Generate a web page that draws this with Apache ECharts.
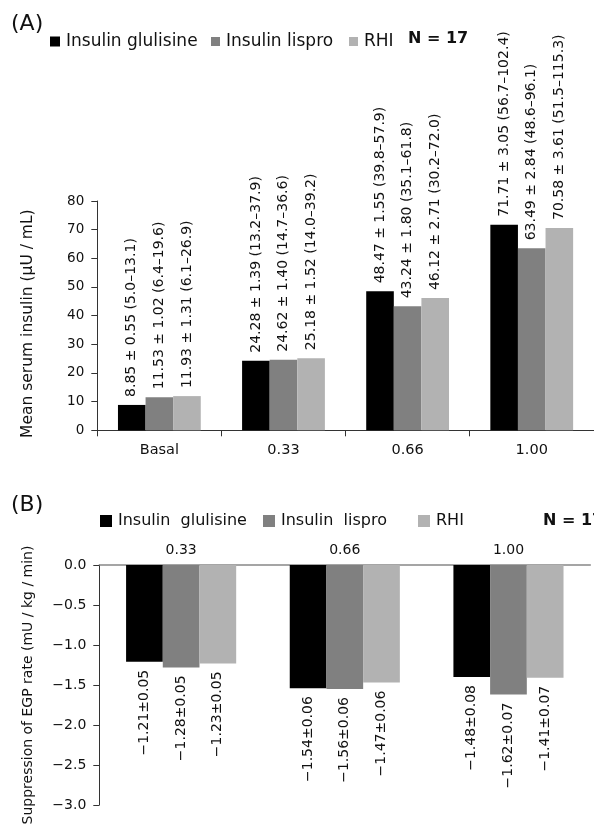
<!DOCTYPE html>
<html>
<head>
<meta charset="utf-8">
<script src="https://cdn.jsdelivr.net/npm/echarts@6/dist/echarts.min.js"></script>
<style>
html,body{margin:0;padding:0;background:#fff;}
#chart{width:594px;height:826px;}
</style>
</head>
<body>
<div id="chart"></div>
<script>
// ---- Data ----
var seriesNamesA = ['Insulin glulisine', 'Insulin lispro', 'RHI'];
var seriesNamesB = ['Insulin  glulisine', 'Insulin  lispro', 'RHI'];
var colors = ['#000000', '#808080', '#b2b2b2'];

// Panel A: mean serum insulin (µU/mL)
var categoriesA = ['Basal', '0.33', '0.66', '1.00'];
var glulisineA = [8.85, 24.28, 48.47, 71.71];
var lisproA = [11.53, 24.62, 43.24, 63.49];
var rhiA = [11.93, 25.18, 46.12, 70.58];
var glulisineLabelsA = ['8.85 ± 0.55 (5.0–13.1)', '24.28 ± 1.39 (13.2–37.9)', '48.47 ± 1.55 (39.8–57.9)', '71.71 ± 3.05 (56.7–102.4)'];
var lisproLabelsA = ['11.53 ± 1.02 (6.4–19.6)', '24.62 ± 1.40 (14.7–36.6)', '43.24 ± 1.80 (35.1–61.8)', '63.49 ± 2.84 (48.6–96.1)'];
var rhiLabelsA = ['11.93 ± 1.31 (6.1–26.9)', '25.18 ± 1.52 (14.0–39.2)', '46.12 ± 2.71 (30.2–72.0)', '70.58 ± 3.61 (51.5–115.3)'];

// Panel B: suppression of EGP rate (mU/kg/min)
var categoriesB = ['0.33', '0.66', '1.00'];
var glulisineB = [-1.21, -1.54, -1.40];
var lisproB = [-1.28, -1.55, -1.62];
var rhiB = [-1.23, -1.47, -1.41];
var glulisineLabelsB = ['−1.21±0.05', '−1.54±0.06', '−1.48±0.08'];
var lisproLabelsB = ['−1.28±0.05', '−1.56±0.06', '−1.62±0.07'];
var rhiLabelsB = ['−1.23±0.05', '−1.47±0.06', '−1.41±0.07'];

var yTicksA = {min: 0, max: 80, interval: 10};
var yTicksB = {min: -3, max: 0, interval: 0.5};

// ---- Chart ----
var FONT = 'DejaVu Sans';
var TXT = '#111111';
var chart = echarts.init(document.getElementById('chart'), null, {renderer: 'canvas'});

function seriesA(i, data, labels) {
  return {
    type: 'bar', name: seriesNamesA[i], xAxisIndex: 0, yAxisIndex: 0,
    data: data, barWidth: 27.6, barGap: '0%',
    itemStyle: {color: colors[i]},
    label: {
      show: true, position: 'top', rotate: 90, distance: 8,
      align: 'left', verticalAlign: 'middle',
      fontFamily: FONT, fontSize: 14, color: TXT,
      formatter: function (p) { return labels[p.dataIndex]; }
    },
    emphasis: {disabled: true}, animation: false
  };
}
function seriesB(i, data, labels) {
  return {
    type: 'bar', name: seriesNamesB[i], xAxisIndex: 1, yAxisIndex: 1,
    data: data, barWidth: 36.7, barGap: '0%',
    itemStyle: {color: colors[i]},
    label: {
      show: true, position: 'bottom', rotate: 90, distance: 8,
      align: 'right', verticalAlign: 'middle',
      fontFamily: FONT, fontSize: 14, color: TXT,
      formatter: function (p) { return labels[p.dataIndex]; }
    },
    emphasis: {disabled: true}, animation: false
  };
}
function legendItem(name, left, top, size, fontSize) {
  return {
    data: [name], left: left, top: top, padding: 0,
    itemWidth: size, itemHeight: size, icon: 'rect', selectedMode: false,
    textStyle: {fontFamily: FONT, fontSize: fontSize, color: TXT, padding: [0,0,0,1]}
  };
}

var option = {
  backgroundColor: '#fff',
  animation: false,
  title: [
    {text: '(A)', left: 11, top: 13, padding: 0, textStyle: {fontFamily: FONT, fontSize: 22, fontWeight: 'normal', color: TXT}},
    {text: 'N = 17', left: 408, top: 31, padding: 0, textStyle: {fontFamily: FONT, fontSize: 16, fontWeight: 'bold', color: TXT}},
    {text: '(B)', left: 11, top: 494, padding: 0, textStyle: {fontFamily: FONT, fontSize: 22, fontWeight: 'normal', color: TXT}},
    {text: 'N = 17', left: 543, top: 513, padding: 0, textStyle: {fontFamily: FONT, fontSize: 16, fontWeight: 'bold', color: TXT}}
  ],
  legend: [
    legendItem(seriesNamesA[0], 50, 33, 10, 17),
    legendItem(seriesNamesA[1], 211, 33, 9, 17),
    legendItem(seriesNamesA[2], 349, 33, 9, 17),
    legendItem(seriesNamesB[0], 100, 513, 12, 16),
    legendItem(seriesNamesB[1], 263, 513, 12, 16),
    legendItem(seriesNamesB[2], 418, 513, 12, 16)
  ],
  grid: [
    {left: 97.3, top: 201, width: 496.5, height: 229.3, containLabel: false, outerBoundsMode: 'none'},
    {left: 99.3, top: 565, width: 491, height: 240, containLabel: false, outerBoundsMode: 'none'}
  ],
  xAxis: [
    {
      type: 'category', gridIndex: 0, data: categoriesA,
      axisLine: {lineStyle: {color: '#333', width: 1}},
      axisTick: {show: true, alignWithLabel: false, length: 6, lineStyle: {color: '#333'}},
      axisLabel: {fontFamily: FONT, fontSize: 14.5, color: TXT, margin: 12},
      splitLine: {show: false}
    },
    {
      type: 'category', gridIndex: 1, data: categoriesB, position: 'top',
      axisLine: {lineStyle: {color: '#888', width: 1.5}},
      axisTick: {show: false},
      axisLabel: {fontFamily: FONT, fontSize: 14, color: TXT, margin: 8},
      splitLine: {show: false}
    }
  ],
  yAxis: [
    {
      type: 'value', gridIndex: 0, min: yTicksA.min, max: yTicksA.max, interval: yTicksA.interval,
      name: 'Mean serum insulin (μU / mL)', nameLocation: 'middle', nameGap: 61,
      nameTextStyle: {fontFamily: FONT, fontSize: 15.5, color: TXT, padding: [0, 16, 0, 0]},
      axisLine: {show: true, lineStyle: {color: '#333'}},
      axisTick: {show: true, length: 6, lineStyle: {color: '#333'}},
      axisLabel: {fontFamily: FONT, fontSize: 13.5, color: TXT, margin: 13},
      splitLine: {show: false}
    },
    {
      type: 'value', gridIndex: 1, min: yTicksB.min, max: yTicksB.max, interval: yTicksB.interval,
      name: 'Suppression of EGP rate (mU / kg / min)', nameLocation: 'middle', nameGap: 64,
      nameTextStyle: {fontFamily: FONT, fontSize: 14, color: TXT},
      axisLine: {show: true, lineStyle: {color: '#333'}},
      axisTick: {show: true, length: 6, lineStyle: {color: '#333'}},
      axisLabel: {
        fontFamily: FONT, fontSize: 14, color: TXT, margin: 13,
        formatter: function (v) { return v.toFixed(1).replace('-', '−'); }
      },
      splitLine: {show: false}
    }
  ],
  series: [
    seriesA(0, glulisineA, glulisineLabelsA),
    seriesA(1, lisproA, lisproLabelsA),
    seriesA(2, rhiA, rhiLabelsA),
    seriesB(0, glulisineB, glulisineLabelsB),
    seriesB(1, lisproB, lisproLabelsB),
    seriesB(2, rhiB, rhiLabelsB)
  ]
};
chart.setOption(option);
</script>
</body>
</html>
